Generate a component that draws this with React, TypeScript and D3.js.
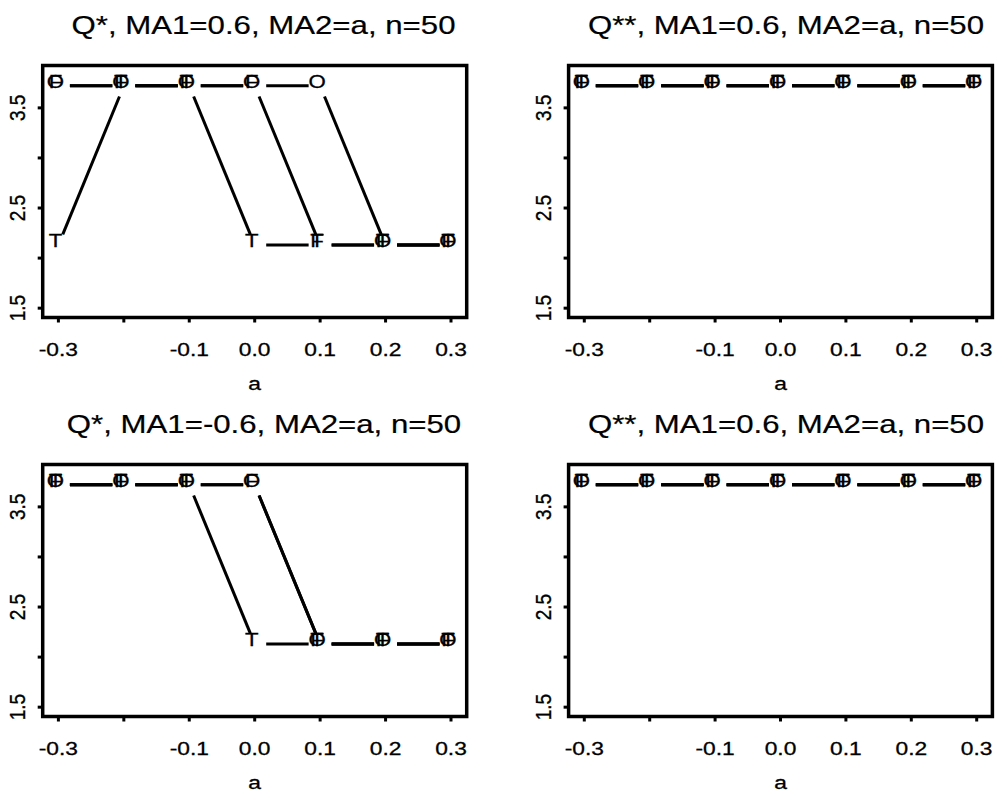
import React from "react";
import * as d3 from "d3";

// ---------- data ----------
const aValues = [-0.3, -0.2, -0.1, 0.0, 0.1, 0.2, 0.3];

const panel1T = [2.13, 3.72, 3.72, 2.13, 2.13, 2.13, 2.13];
const panel1F = [3.72, 3.72, 3.72, 3.72, 2.13, 2.13, 2.13];
const panel1O = [3.72, 3.72, 3.72, 3.72, 3.72, 2.13, 2.13];

const panel2T = [3.72, 3.72, 3.72, 3.72, 3.72, 3.72, 3.72];
const panel2F = [3.72, 3.72, 3.72, 3.72, 3.72, 3.72, 3.72];
const panel2O = [3.72, 3.72, 3.72, 3.72, 3.72, 3.72, 3.72];

const panel3T = [3.72, 3.72, 3.72, 2.13, 2.13, 2.13, 2.13];
const panel3F = [3.72, 3.72, 3.72, 3.72, 2.13, 2.13, 2.13];
const panel3O = [3.72, 3.72, 3.72, 3.72, 2.13, 2.13, 2.13];

const panel4T = [3.72, 3.72, 3.72, 3.72, 3.72, 3.72, 3.72];
const panel4F = [3.72, 3.72, 3.72, 3.72, 3.72, 3.72, 3.72];
const panel4O = [3.72, 3.72, 3.72, 3.72, 3.72, 3.72, 3.72];

const seriesSymbols = ["T", "F", "O"];

const titles = [
  "Q*, MA1=0.6, MA2=a, n=50",
  "Q**,  MA1=0.6, MA2=a, n=50",
  "Q*, MA1=-0.6, MA2=a, n=50",
  "Q**,  MA1=0.6, MA2=a, n=50",
];

const xTickValues = [-0.3, -0.2, -0.1, 0.0, 0.1, 0.2, 0.3];
const xTickLabels = ["-0.3", "", "-0.1", "0.0", "0.1", "0.2", "0.3"];
const yTickValues = [1.5, 2.0, 2.5, 3.0, 3.5];
const yTickLabels = ["1.5", "", "2.5", "", "3.5"];
const xAxisLabel = "a";

const yLimits = [1.5, 3.83];
const xLimits = [-0.3, 0.3];

// ---------- layout ----------
const W = 999;
const H = 798;
const FONT = "'Liberation Sans', Arial, Helvetica, sans-serif";
const SX = 1.2; // horizontal text stretch

const panels = [
  { left: 42.7, right: 466.7, top: 65.5, bottom: 317.5, titleX: 263.5, series: [panel1T, panel1F, panel1O] },
  { left: 568.6, right: 992.4, top: 65.5, bottom: 317.5, titleX: 786, series: [panel2T, panel2F, panel2O] },
  { left: 42.7, right: 466.7, top: 464.5, bottom: 716.5, titleX: 264, series: [panel3T, panel3F, panel3O] },
  { left: 568.6, right: 992.4, top: 464.5, bottom: 716.5, titleX: 786, series: [panel4T, panel4F, panel4O] },
];

function pad(lim: number[]) {
  const r = lim[1] - lim[0];
  return [lim[0] - 0.04 * r, lim[1] + 0.04 * r];
}

const GAP = 11.5;
const TXT = { fontFamily: FONT, fill: "#000", stroke: "#000", strokeWidth: 0.3 };

function Panel({ p, title }: { p: any; title: string }) {
  const x = d3.scaleLinear().domain(pad(xLimits)).range([p.left, p.right]);
  const y = d3.scaleLinear().domain(pad(yLimits)).range([p.bottom, p.top]);
  const cx = (p.left + p.right) / 2;

  const segs: { x1: number; y1: number; x2: number; y2: number }[] = [];
  p.series.forEach((vals: number[]) => {
    for (let i = 0; i < vals.length - 1; i++) {
      const ax = x(aValues[i]), ay = y(vals[i]);
      const bx = x(aValues[i + 1]), by = y(vals[i + 1]);
      const dx = bx - ax, dy = by - ay;
      const len = Math.sqrt(dx * dx + dy * dy);
      if (len <= 2 * GAP) continue;
      const ux = dx / len, uy = dy / len;
      segs.push({ x1: ax + ux * GAP, y1: ay + uy * GAP, x2: bx - ux * GAP, y2: by - uy * GAP });
    }
  });

  return (
    <g>
      <text
        transform={`translate(${p.titleX},${p.top - 31.5}) scale(${SX},1)`}
        textAnchor="middle"
        fontSize={26}
        {...TXT}
        strokeWidth={0.2}
      >
        {title}
      </text>
      {segs.map((s, i) => (
        <line key={"s" + i} x1={s.x1} y1={s.y1} x2={s.x2} y2={s.y2} stroke="#000" strokeWidth={3} />
      ))}
      {p.series.map((vals: number[], si: number) =>
        vals.map((v, i) => (
          <text
            key={"p" + si + "-" + i}
            transform={`translate(${x(aValues[i]) - 3},${y(v) + 2}) scale(${SX},1)`}
            textAnchor="middle"
            fontSize={18.5}
            {...TXT}
          >
            {seriesSymbols[si]}
          </text>
        ))
      )}
      <rect
        x={p.left}
        y={p.top}
        width={p.right - p.left}
        height={p.bottom - p.top}
        fill="none"
        stroke="#000"
        strokeWidth={3.5}
      />
      {xTickValues.map((t, i) => (
        <g key={"xt" + i}>
          <line x1={x(t)} x2={x(t)} y1={p.bottom} y2={p.bottom + 5} stroke="#000" strokeWidth={3} />
          <text
            transform={`translate(${x(t)},${p.bottom + 38}) scale(${SX},1)`}
            textAnchor="middle"
            fontSize={19}
            {...TXT}
          >
            {xTickLabels[i]}
          </text>
        </g>
      ))}
      {yTickValues.map((t, i) => (
        <g key={"yt" + i}>
          <line x1={p.left - 5} x2={p.left} y1={y(t)} y2={y(t)} stroke="#000" strokeWidth={3} />
          <text
            transform={`translate(${p.left - 18},${y(t)}) scale(${SX},1) rotate(-90)`}
            textAnchor="middle"
            fontSize={19}
            {...TXT}
          >
            {yTickLabels[i]}
          </text>
        </g>
      ))}
      <text
        transform={`translate(${cx},${p.bottom + 72}) scale(${SX},1)`}
        textAnchor="middle"
        fontSize={19}
        {...TXT}
      >
        {xAxisLabel}
      </text>
    </g>
  );
}

export default function App() {
  return (
    <svg
      width={W}
      height={H}
      viewBox={`0 0 ${W} ${H}`}
      style={{ position: "absolute", left: 0, top: 0, background: "#fff" }}
    >
      <rect x={0} y={0} width={W} height={H} fill="#fff" />
      {panels.map((p, i) => (
        <Panel key={i} p={p} title={titles[i]} />
      ))}
    </svg>
  );
}
